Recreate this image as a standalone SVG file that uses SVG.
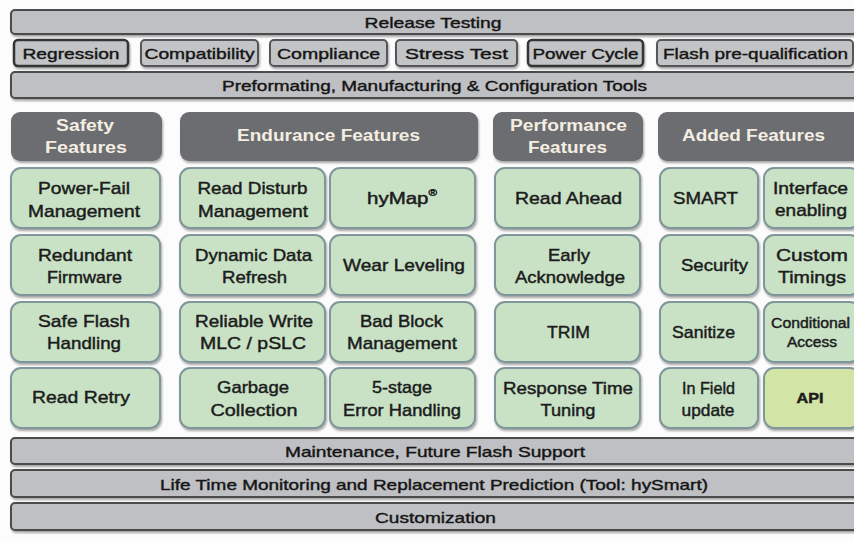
<svg xmlns="http://www.w3.org/2000/svg" width="854" height="541" viewBox="0 0 854 541">
<defs>
<filter id="sh" x="-5%" y="-10%" width="110%" height="130%">
<feDropShadow dx="1" dy="2" stdDeviation="1.2" flood-color="#000" flood-opacity="0.35"/>
</filter>
<style>
.bar{fill:#bfc0c3;stroke:#4a4b4e;stroke-width:2;filter:url(#sh)}
.tab{fill:#c3c4c6;stroke:#55575a;stroke-width:2;filter:url(#sh)}
.tabd{fill:#c3c4c6;stroke:#333436;stroke-width:2.5;filter:url(#sh)}
.hdr{fill:#6c6d71;filter:url(#sh)}
.box{fill:#c9e2c6;stroke:#7f969a;stroke-width:2;filter:url(#sh)}
.api{fill:#d2e4a6;stroke:#7f969a;stroke-width:2;filter:url(#sh)}
text{font-family:"Liberation Sans",Arial,sans-serif;text-anchor:middle;dominant-baseline:central}
.bt{font-size:15px;fill:#151515;stroke:#151515;stroke-width:0.4}
.ht{font-size:16px;font-weight:bold;fill:#f4eee2}
.gt{font-size:17px;fill:#1c1c1c;stroke:#1c1c1c;stroke-width:0.45}
</style>
</defs>
<rect width="854" height="541" fill="#fdfcfc"/>
<g id="release-testing"><rect class="bar" x="11" y="10" width="850" height="24" rx="4"/><text class="bt" x="433" y="22" textLength="137" lengthAdjust="spacingAndGlyphs">Release Testing</text></g>
<g id="regression"><rect class="tabd" x="14" y="40" width="114" height="26" rx="4"/><text class="bt" x="71" y="53" textLength="97" lengthAdjust="spacingAndGlyphs">Regression</text></g>
<g id="compatibility"><rect class="tab" x="141" y="40" width="117" height="26" rx="4"/><text class="bt" x="199.5" y="53" textLength="110" lengthAdjust="spacingAndGlyphs">Compatibility</text></g>
<g id="compliance"><rect class="tab" x="270" y="40" width="117" height="26" rx="4"/><text class="bt" x="328.5" y="53" textLength="103" lengthAdjust="spacingAndGlyphs">Compliance</text></g>
<g id="stress-test"><rect class="tab" x="396" y="40" width="121" height="26" rx="4"/><text class="bt" x="456.5" y="53" textLength="103" lengthAdjust="spacingAndGlyphs">Stress Test</text></g>
<g id="power-cycle"><rect class="tabd" x="528" y="40" width="115" height="26" rx="4"/><text class="bt" x="585.5" y="53" textLength="106" lengthAdjust="spacingAndGlyphs">Power Cycle</text></g>
<g id="flash-prequal"><rect class="tab" x="657" y="40" width="196" height="26" rx="4"/><text class="bt" x="755.5" y="53" textLength="185" lengthAdjust="spacingAndGlyphs">Flash pre-qualification</text></g>
<g id="preformatting"><rect class="bar" x="11" y="72" width="850" height="26" rx="4"/><text class="bt" x="434.5" y="85" textLength="425" lengthAdjust="spacingAndGlyphs">Preformating, Manufacturing &amp; Configuration Tools</text></g>

<g id="hdr-safety"><rect class="hdr" x="11" y="112" width="151" height="49" rx="9"/><text class="ht" x="85" y="125" textLength="58" lengthAdjust="spacingAndGlyphs">Safety</text><text class="ht" x="86" y="147" textLength="82" lengthAdjust="spacingAndGlyphs">Features</text></g>
<g id="hdr-endurance"><rect class="hdr" x="180" y="112" width="298" height="49" rx="9"/><text class="ht" x="328.5" y="135" textLength="183" lengthAdjust="spacingAndGlyphs">Endurance Features</text></g>
<g id="hdr-performance"><rect class="hdr" x="493" y="112" width="150" height="49" rx="9"/><text class="ht" x="568.5" y="125" textLength="117" lengthAdjust="spacingAndGlyphs">Performance</text><text class="ht" x="567.5" y="147" textLength="79" lengthAdjust="spacingAndGlyphs">Features</text></g>
<g id="hdr-added"><rect class="hdr" x="658" y="112" width="204" height="49" rx="9"/><text class="ht" x="753.5" y="135" textLength="143" lengthAdjust="spacingAndGlyphs">Added Features</text></g>

<g id="power-fail"><rect class="box" x="11" y="168" width="149" height="60" rx="10"/><text class="gt" x="84" y="188" textLength="92" lengthAdjust="spacingAndGlyphs">Power-Fail</text><text class="gt" x="84" y="211" textLength="112" lengthAdjust="spacingAndGlyphs">Management</text></g>
<g id="read-disturb"><rect class="box" x="180" y="168" width="145" height="60" rx="10"/><text class="gt" x="252.5" y="188" textLength="110" lengthAdjust="spacingAndGlyphs">Read Disturb</text><text class="gt" x="253" y="211" textLength="110" lengthAdjust="spacingAndGlyphs">Management</text></g>
<g id="hymap"><rect class="box" x="330" y="168" width="145" height="60" rx="10"/><text class="gt" x="402" y="198" style="font-size:16px" textLength="70" lengthAdjust="spacingAndGlyphs">hyMap<tspan style="font-size:9px" dy="-5">®</tspan></text></g>
<g id="read-ahead"><rect class="box" x="495" y="168" width="145" height="60" rx="10"/><text class="gt" x="568.5" y="198" textLength="107" lengthAdjust="spacingAndGlyphs">Read Ahead</text></g>
<g id="smart"><rect class="box" x="660" y="168" width="98" height="60" rx="10"/><text class="gt" x="705.5" y="198" textLength="65" lengthAdjust="spacingAndGlyphs">SMART</text></g>
<g id="interface"><rect class="box" x="764" y="168" width="96" height="60" rx="10"/><text class="gt" x="810.5" y="188" textLength="75" lengthAdjust="spacingAndGlyphs">Interface</text><text class="gt" x="811" y="210" textLength="72" lengthAdjust="spacingAndGlyphs">enabling</text></g>

<g id="redundant"><rect class="box" x="11" y="235" width="149" height="60" rx="10"/><text class="gt" x="85" y="255" textLength="94" lengthAdjust="spacingAndGlyphs">Redundant</text><text class="gt" x="84.5" y="277" textLength="75" lengthAdjust="spacingAndGlyphs">Firmware</text></g>
<g id="dynamic-data"><rect class="box" x="180" y="235" width="145" height="60" rx="10"/><text class="gt" x="253.5" y="255" textLength="117" lengthAdjust="spacingAndGlyphs">Dynamic Data</text><text class="gt" x="254.5" y="277" textLength="65" lengthAdjust="spacingAndGlyphs">Refresh</text></g>
<g id="wear-leveling"><rect class="box" x="330" y="235" width="145" height="60" rx="10"/><text class="gt" x="404" y="265" textLength="122" lengthAdjust="spacingAndGlyphs">Wear Leveling</text></g>
<g id="early-ack"><rect class="box" x="495" y="235" width="145" height="60" rx="10"/><text class="gt" x="569" y="255" textLength="42" lengthAdjust="spacingAndGlyphs">Early</text><text class="gt" x="570" y="277" textLength="110" lengthAdjust="spacingAndGlyphs">Acknowledge</text></g>
<g id="security"><rect class="box" x="660" y="235" width="98" height="60" rx="10"/><text class="gt" x="714.5" y="265" textLength="67" lengthAdjust="spacingAndGlyphs">Security</text></g>
<g id="custom-timings"><rect class="box" x="764" y="235" width="96" height="60" rx="10"/><text class="gt" x="812" y="255" textLength="72" lengthAdjust="spacingAndGlyphs">Custom</text><text class="gt" x="812" y="277" textLength="68" lengthAdjust="spacingAndGlyphs">Timings</text></g>

<g id="safe-flash"><rect class="box" x="11" y="302" width="149" height="60" rx="10"/><text class="gt" x="84" y="321" textLength="92" lengthAdjust="spacingAndGlyphs">Safe Flash</text><text class="gt" x="84" y="343" textLength="74" lengthAdjust="spacingAndGlyphs">Handling</text></g>
<g id="reliable-write"><rect class="box" x="180" y="302" width="145" height="60" rx="10"/><text class="gt" x="254" y="321" textLength="118" lengthAdjust="spacingAndGlyphs">Reliable Write</text><text class="gt" x="253" y="343" textLength="106" lengthAdjust="spacingAndGlyphs">MLC / pSLC</text></g>
<g id="bad-block"><rect class="box" x="330" y="302" width="145" height="60" rx="10"/><text class="gt" x="401.5" y="321" textLength="83" lengthAdjust="spacingAndGlyphs">Bad Block</text><text class="gt" x="402" y="343" textLength="110" lengthAdjust="spacingAndGlyphs">Management</text></g>
<g id="trim"><rect class="box" x="495" y="302" width="145" height="60" rx="10"/><text class="gt" x="568.5" y="332" textLength="43" lengthAdjust="spacingAndGlyphs">TRIM</text></g>
<g id="sanitize"><rect class="box" x="660" y="302" width="98" height="60" rx="10"/><text class="gt" x="703.5" y="332" textLength="63" lengthAdjust="spacingAndGlyphs">Sanitize</text></g>
<g id="conditional-access"><rect class="box" x="764" y="302" width="96" height="60" rx="10"/><text class="gt" x="810.5" y="323" style="font-size:14px" textLength="79" lengthAdjust="spacingAndGlyphs">Conditional</text><text class="gt" x="812" y="342" style="font-size:14px" textLength="50" lengthAdjust="spacingAndGlyphs">Access</text></g>

<g id="read-retry"><rect class="box" x="11" y="368" width="149" height="60" rx="10"/><text class="gt" x="81" y="397" textLength="98" lengthAdjust="spacingAndGlyphs">Read Retry</text></g>
<g id="garbage-collection"><rect class="box" x="180" y="368" width="145" height="60" rx="10"/><text class="gt" x="253" y="387" textLength="72" lengthAdjust="spacingAndGlyphs">Garbage</text><text class="gt" x="254" y="410" textLength="87" lengthAdjust="spacingAndGlyphs">Collection</text></g>
<g id="error-handling"><rect class="box" x="330" y="368" width="145" height="60" rx="10"/><text class="gt" x="402" y="387" textLength="60" lengthAdjust="spacingAndGlyphs">5-stage</text><text class="gt" x="402" y="410" textLength="118" lengthAdjust="spacingAndGlyphs">Error Handling</text></g>
<g id="response-time"><rect class="box" x="495" y="368" width="145" height="60" rx="10"/><text class="gt" x="568" y="388" textLength="130" lengthAdjust="spacingAndGlyphs">Response Time</text><text class="gt" x="568" y="410" textLength="55" lengthAdjust="spacingAndGlyphs">Tuning</text></g>
<g id="in-field-update"><rect class="box" x="660" y="368" width="98" height="60" rx="10"/><text class="gt" x="708.5" y="388" textLength="53" lengthAdjust="spacingAndGlyphs">In Field</text><text class="gt" x="708" y="410" textLength="53" lengthAdjust="spacingAndGlyphs">update</text></g>
<g id="api"><rect class="api" x="764" y="368" width="96" height="60" rx="10"/><text class="gt" x="810" y="398" style="font-size:14px;font-weight:bold" textLength="27" lengthAdjust="spacingAndGlyphs">API</text></g>

<g id="maintenance"><rect class="bar" x="11" y="438" width="850" height="26" rx="4"/><text class="bt" x="435" y="451" textLength="300" lengthAdjust="spacingAndGlyphs">Maintenance, Future Flash Support</text></g>
<g id="lifetime"><rect class="bar" x="11" y="470" width="850" height="27" rx="4"/><text class="bt" x="434" y="484" textLength="548" lengthAdjust="spacingAndGlyphs">Life Time Monitoring and Replacement Prediction (Tool: hySmart)</text></g>
<g id="customization"><rect class="bar" x="11" y="503" width="850" height="27" rx="4"/><text class="bt" x="435.5" y="517" textLength="121" lengthAdjust="spacingAndGlyphs">Customization</text></g>
<g id="connectors"/>
</svg>
